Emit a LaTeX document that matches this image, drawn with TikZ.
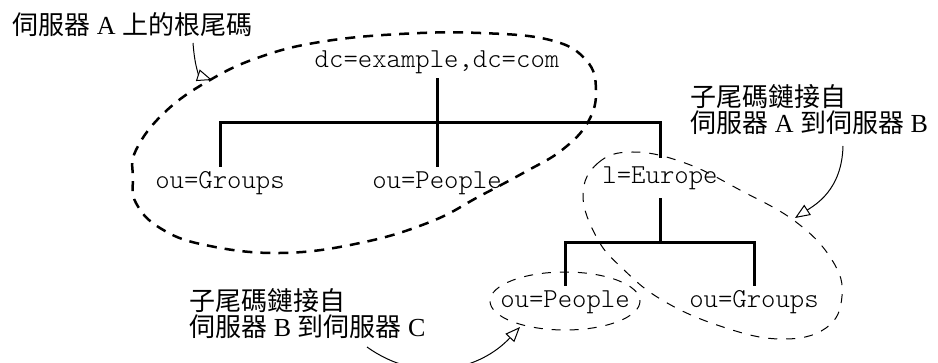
\documentclass[tikz,border=0pt]{standalone}
\usepackage{fontspec}
\setmainfont{Liberation Serif}
\setmonofont{Latin Modern Mono Light}
\newfontfamily\cjk{Noto Sans CJK TC}
\usetikzlibrary{arrows.meta}
\tikzset{
  dn/.style={font=\ttfamily\fontsize{13.7}{15}\selectfont, inner sep=0pt, minimum height=16pt},
  lbl/.style={font=\fontsize{13}{13}\selectfont, inner sep=0pt, align=left},
  tree/.style={line width=1.5pt},
  bigdash/.style={line width=1.25pt, dash pattern=on 5pt off 4pt},
  thindash/.style={line width=0.5pt, dash pattern=on 4.5pt off 4.5pt},
  callout/.style={line width=0.5pt, -{Triangle[open, length=7.5pt, width=6pt]}}
}
\begin{document}
\begin{tikzpicture}[x=0.5pt, y=-0.5pt]
\useasboundingbox (0,0) rectangle (938,363);
% tree nodes
\node[dn] (root) at (437,62) {dc=example,dc=com};
\node[dn] (grp1) at (220,183) {ou=Groups};
\node[dn] (ppl1) at (437,183) {ou=People};
\node[dn, minimum height=20pt] (eur) at (660,178) {l=Europe};
\node[dn] (ppl2) at (565,302) {ou=People};
\node[dn] (grp2) at (754,302) {ou=Groups};
\coordinate (bar1) at (437,123);
\coordinate (bar2) at (660,243);
% tree lines
\draw[tree] (root) -- (ppl1);
\draw[tree] (grp1.north) -- (grp1.north |- bar1) -- (eur.north |- bar1) -- (eur.north);
\draw[tree] (eur.south) -- (bar2);
\draw[tree] (ppl2.north) -- (ppl2.north |- bar2) -- (grp2.north |- bar2) -- (grp2.north);
% big thick dashed region
\draw[bigdash] plot[smooth cycle, tension=0.7] coordinates {
  (136,150) (165,112) (210,80) (260,57) (320,42) (400,34) (480,33) (550,40)
  (586,60) (596,90) (588,122) (562,150) (525,172) (480,196) (430,222)
  (360,243) (280,253) (205,245) (160,228) (136,203) (133,178)};
% thin dashed region around l=Europe subtree
\draw[thindash] plot[smooth cycle, tension=0.7] coordinates {
  (583,195) (598,163) (633,152) (685,163) (740,190) (796,222) (832,260)
  (842,296) (826,328) (780,339) (720,326) (662,300) (622,268) (597,238)};
% thin dashed region around lower ou=People
\draw[thindash] (565,301) ellipse [x radius=75, y radius=29];
% labels
\node[lbl, anchor=west] (t1) at (12,25) {{\cjk 伺服器} A {\cjk 上的根尾碼}};
\node[lbl, anchor=west] (t2) at (690,110) {{\cjk 子尾碼鏈接自}\\[0pt]{\cjk 伺服器} A {\cjk 到伺服器} B};
\node[lbl, anchor=west] (t3) at (189,314) {{\cjk 子尾碼鏈接自}\\[0pt]{\cjk 伺服器} B {\cjk 到伺服器} C};
% callout arrows
\coordinate (a1s) at (193,43);
\coordinate (a1e) at (212,80);
\coordinate (a2s) at (843,146);
\coordinate (a2e) at (795,218);
\coordinate (a3s) at (367,347);
\coordinate (a3e) at (520,327);
\draw[callout] (a1s) .. controls (195,70) and (200,76) .. (a1e);
\draw[callout] (a2s) .. controls (842,190) and (815,205) .. (a2e);
\draw[callout] (a3s) .. controls (420,385) and (480,370) .. (a3e);
\end{tikzpicture}
\end{document}
